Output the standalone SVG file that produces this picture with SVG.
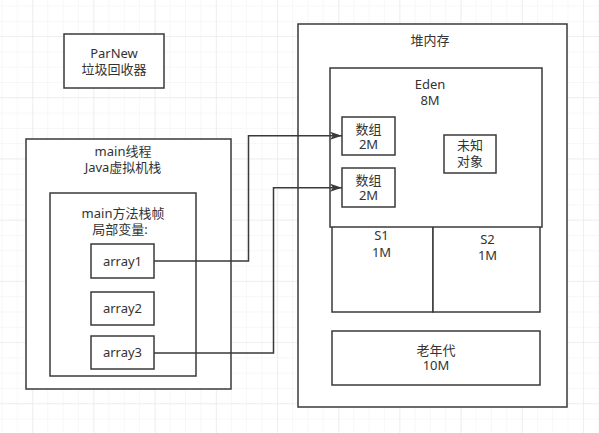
<svg xmlns="http://www.w3.org/2000/svg" width="599" height="433" viewBox="0 0 599 433">
<style>
.box{fill:#fff;stroke:#3a3a3a;stroke-width:1.5}
.t{font-family:"Noto Sans","Noto Sans CJK SC",sans-serif;font-size:13px;fill:#333;text-anchor:middle}
.c{fill:none;stroke:#3a3a3a;stroke-width:1.5}
</style>
<defs>
<pattern id="minor" width="15.3" height="15.3" patternUnits="userSpaceOnUse" x="1.4" y="5.5">
<path d="M0 0H15.3M0 0V15.3" fill="none" stroke="#f0f0f0" stroke-width="1"/>
</pattern>
<pattern id="major" width="61.2" height="61.2" patternUnits="userSpaceOnUse" x="32.3" y="36">
<path d="M0 0H61.2M0 0V61.2" fill="none" stroke="#e6e6e6" stroke-width="1"/>
</pattern>
<marker id="arr" markerUnits="userSpaceOnUse" markerWidth="13" markerHeight="9" refX="12" refY="4" orient="auto">
<path d="M0 0L12 4L0 8L3 4Z" fill="#3a3a3a"/>
</marker>
</defs>
<rect width="599" height="433" fill="#fff"/>
<rect width="599" height="433" fill="url(#minor)"/>
<rect width="599" height="433" fill="url(#major)"/>

<g id="parnew">
<rect class="box" x="64" y="34" width="100" height="54"/>
<text class="t" x="114" y="58">ParNew</text>
<text class="t" x="114" y="74">垃圾回收器</text>
</g>

<g id="main-thread">
<rect class="box" x="26" y="139" width="205" height="250"/>
<text class="t" x="123" y="156">main线程</text>
<text class="t" x="123" y="171.5">Java虚拟机栈</text>
</g>

<g id="main-frame">
<rect class="box" x="50" y="193" width="146" height="183"/>
<text class="t" x="123" y="217.5">main方法栈帧</text>
<text class="t" x="120" y="233.5">局部变量:</text>
</g>

<g id="array1">
<rect class="box" x="91" y="244" width="63" height="34"/>
<text class="t" x="122.5" y="265.5">array1</text>
</g>
<g id="array2">
<rect class="box" x="91" y="292" width="63" height="33"/>
<text class="t" x="122.5" y="313">array2</text>
</g>
<g id="array3">
<rect class="box" x="91" y="336" width="63" height="33"/>
<text class="t" x="122.5" y="357">array3</text>
</g>

<g id="heap">
<rect class="box" x="298" y="24" width="269" height="383"/>
<text class="t" x="430" y="45">堆内存</text>
</g>

<g id="s1">
<rect class="box" x="332" y="215" width="101" height="97"/>
<text class="t" x="381.5" y="239.5">S1</text>
<text class="t" x="381.5" y="256.5">1M</text>
</g>
<g id="s2">
<rect class="box" x="433" y="215" width="107" height="97"/>
<text class="t" x="487.5" y="243.5">S2</text>
<text class="t" x="487.5" y="259.5">1M</text>
</g>

<g id="eden">
<rect class="box" x="330" y="68" width="212" height="159"/>
<text class="t" x="430" y="88.5">Eden</text>
<text class="t" x="430" y="104.5">8M</text>
</g>

<g id="array-obj1">
<rect class="box" x="342" y="117" width="53" height="38"/>
<text class="t" x="368.5" y="133.5">数组</text>
<text class="t" x="368.5" y="149">2M</text>
</g>
<g id="array-obj2">
<rect class="box" x="342" y="168" width="53" height="39"/>
<text class="t" x="368.5" y="184.5">数组</text>
<text class="t" x="368.5" y="199.5">2M</text>
</g>
<g id="unknown">
<rect class="box" x="444" y="135" width="52" height="38"/>
<text class="t" x="470" y="150">未知</text>
<text class="t" x="470" y="166">对象</text>
</g>

<g id="old">
<rect class="box" x="332" y="331" width="208" height="54"/>
<text class="t" x="436" y="355">老年代</text>
<text class="t" x="436" y="370">10M</text>
</g>

<g id="connectors">
<path class="c" d="M154 261H248.5V135.7H342" marker-end="url(#arr)"/>
<path class="c" d="M154 353H273.5V187.7H342" marker-end="url(#arr)"/>
</g>
</svg>
